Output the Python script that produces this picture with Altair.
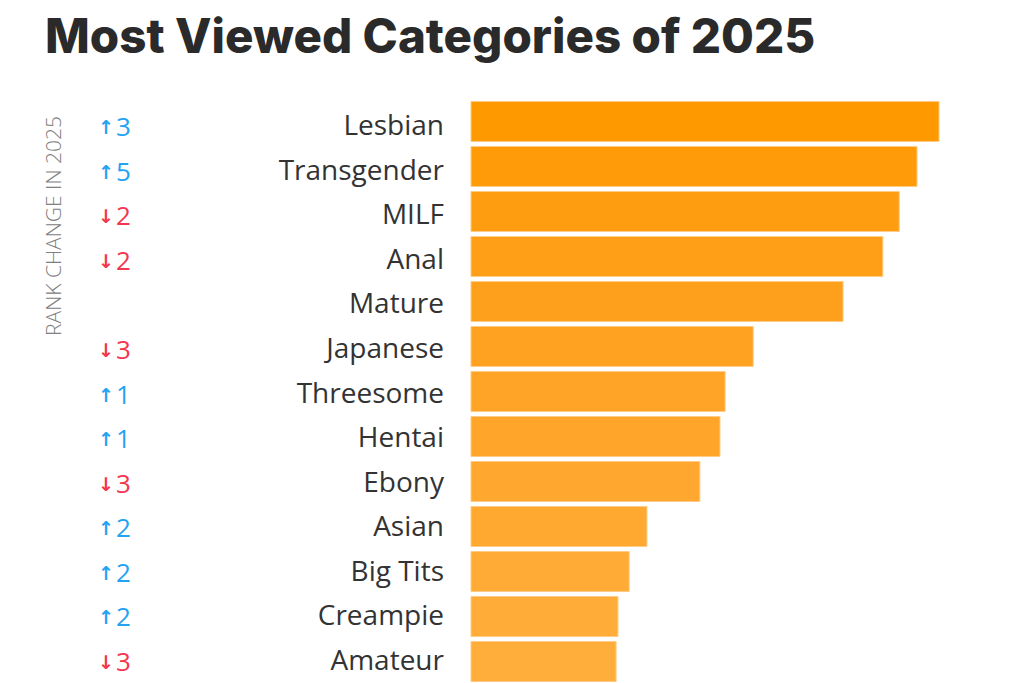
import altair as alt
import pandas as pd

# Categories ranked by views, with a relative view index (top = 100)
categories = ["Lesbian", "Transgender", "MILF", "Anal", "Mature", "Japanese",
              "Threesome", "Hentai", "Ebony", "Asian", "Big Tits", "Creampie", "Amateur"]
view_index = [100, 95.3, 91.5, 88.0, 79.5, 60.3, 54.3, 53.2, 48.9, 37.6, 33.8, 31.4, 31.0]
# Rank change vs previous year (0 = unchanged)
rank_change = [3, 5, -2, -2, 0, -3, 1, 1, -3, 2, 2, 2, -3]

df = pd.DataFrame({
    "category": categories,
    "views": view_index,
    "rank": list(range(1, len(categories) + 1)),
    "change": rank_change,
})
df["arrow"] = ["↑" if c > 0 else ("↓" if c < 0 else "") for c in df["change"]]
df["amount"] = [str(abs(c)) if c != 0 else "" for c in df["change"]]
df["direction"] = ["up" if c > 0 else ("down" if c < 0 else "none") for c in df["change"]]

W, H = 1024, 683
LABEL_FONT = "Open Sans"
TITLE_FONT = "Inter"

# bar rows
y_scale = alt.Scale(domain=categories, range=[99, 684], paddingInner=0.111, paddingOuter=0.055)
y_bar = alt.Y("category:N", scale=y_scale, axis=None, sort=categories)
# text baselines for each row
y_text = alt.Y("category:N", scale=alt.Scale(type="point", domain=categories, range=[135, 670], padding=0),
               axis=None, sort=categories)

base = alt.Chart(df)

bars = base.mark_bar(stroke="#FFCB85", strokeWidth=1).encode(
    x=alt.X("views:Q", scale=alt.Scale(domain=[0, 100], range=[471, 939]), axis=None),
    y=y_bar,
    color=alt.Color("rank:Q", scale=alt.Scale(domain=[1, 13], range=["#FF9900", "#FFAE3C"]), legend=None),
)

change_color = alt.Color("direction:N",
                         scale=alt.Scale(domain=["up", "down", "none"],
                                         range=["#24A3F2", "#F4364F", "#FFFFFF"]),
                         legend=None)

cat_labels = base.mark_text(align="right", baseline="alphabetic", font=LABEL_FONT,
                            fontSize=28, color="#333333").encode(
    x=alt.value(444), y=y_text, text="category:N",
)

arrows = base.mark_text(align="center", baseline="middle", dy=-7, font="DejaVu Sans",
                        fontSize=19, fontWeight="bold").encode(
    x=alt.value(106), y=y_text, text="arrow:N", color=change_color,
)

amounts = base.mark_text(align="left", baseline="alphabetic", dy=1, font=LABEL_FONT,
                         fontSize=26).encode(
    x=alt.value(116), y=y_text, text="amount:N", color=change_color,
)

text_layers = alt.layer(cat_labels, arrows, amounts)

title_df = pd.DataFrame({"t": ["Most Viewed Categories of 2025"]})
title = alt.Chart(title_df).mark_text(align="left", baseline="alphabetic", font=TITLE_FONT,
                                      fontSize=47.5, fontWeight=800, color="#2A2A2A").encode(
    x=alt.value(45), y=alt.value(53), text="t:N",
)

side_df = pd.DataFrame({"t": ["RANK CHANGE IN 2025"]})
side = alt.Chart(side_df).mark_text(align="center", baseline="middle", font=LABEL_FONT,
                                    fontSize=21, fontWeight=300, color="#808080", angle=270).encode(
    x=alt.value(55), y=alt.value(226), text="t:N",
)

chart = alt.layer(bars, text_layers, title, side).resolve_scale(
    color="independent", y="independent"
).properties(
    width=W, height=H, autosize=alt.AutoSizeParams(type="none"), padding=0,
    background="white",
).configure_view(strokeWidth=0, stroke=None)

chart.save("out.html", embed_options={"renderer": "svg", "actions": False})
